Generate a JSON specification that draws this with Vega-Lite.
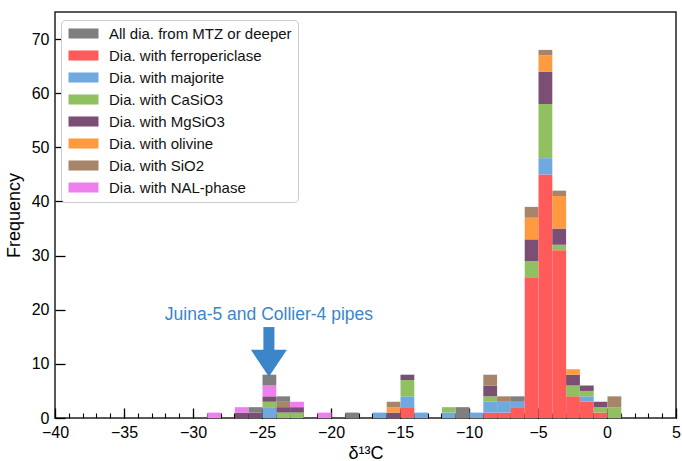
{
  "$schema": "https://vega.github.io/schema/vega-lite/v6.json",
  "width": 621,
  "height": 406,
  "autosize": {"type": "none"},
  "padding": {"left": 55, "top": 12, "right": 6, "bottom": 43},
  "background": "white",
  "config": {
    "font": "Liberation Sans",
    "view": {"stroke": "#222222", "strokeWidth": 1.5},
    "bar": {"binSpacing": 0},
    "axis": {"labelFont": "Liberation Sans", "titleFont": "Liberation Sans", "labelColor": "#000", "titleColor": "#000", "tickColor": "#000", "domain": false, "grid": false, "titleFontWeight": "normal"}
  },
  "datasets": {
    "hist": [
      {"lo": -29, "hi": -28, "s": "Dia. with NAL-phase", "n": 1, "o": 7},
      {"lo": -27, "hi": -26, "s": "Dia. with MgSiO3", "n": 1, "o": 4},
      {"lo": -27, "hi": -26, "s": "Dia. with NAL-phase", "n": 1, "o": 7},
      {"lo": -26, "hi": -25, "s": "Dia. with MgSiO3", "n": 1, "o": 4},
      {"lo": -26, "hi": -25, "s": "All dia. from MTZ or deeper", "n": 1, "o": 8},
      {"lo": -25, "hi": -24, "s": "Dia. with majorite", "n": 2, "o": 2},
      {"lo": -25, "hi": -24, "s": "Dia. with CaSiO3", "n": 1, "o": 3},
      {"lo": -25, "hi": -24, "s": "Dia. with MgSiO3", "n": 1, "o": 4},
      {"lo": -25, "hi": -24, "s": "Dia. with NAL-phase", "n": 2, "o": 7},
      {"lo": -25, "hi": -24, "s": "All dia. from MTZ or deeper", "n": 2, "o": 8},
      {"lo": -24, "hi": -23, "s": "Dia. with CaSiO3", "n": 1, "o": 3},
      {"lo": -24, "hi": -23, "s": "Dia. with MgSiO3", "n": 1, "o": 4},
      {"lo": -24, "hi": -23, "s": "Dia. with SiO2", "n": 1, "o": 6},
      {"lo": -24, "hi": -23, "s": "All dia. from MTZ or deeper", "n": 1, "o": 8},
      {"lo": -23, "hi": -22, "s": "Dia. with CaSiO3", "n": 1, "o": 3},
      {"lo": -23, "hi": -22, "s": "Dia. with MgSiO3", "n": 1, "o": 4},
      {"lo": -23, "hi": -22, "s": "Dia. with NAL-phase", "n": 1, "o": 7},
      {"lo": -21, "hi": -20, "s": "Dia. with NAL-phase", "n": 1, "o": 7},
      {"lo": -19, "hi": -18, "s": "All dia. from MTZ or deeper", "n": 1, "o": 8},
      {"lo": -17, "hi": -16, "s": "Dia. with majorite", "n": 1, "o": 2},
      {"lo": -16, "hi": -15, "s": "Dia. with MgSiO3", "n": 1, "o": 4},
      {"lo": -16, "hi": -15, "s": "Dia. with olivine", "n": 1, "o": 5},
      {"lo": -16, "hi": -15, "s": "Dia. with SiO2", "n": 1, "o": 6},
      {"lo": -15, "hi": -14, "s": "Dia. with ferropericlase", "n": 2, "o": 1},
      {"lo": -15, "hi": -14, "s": "Dia. with majorite", "n": 2, "o": 2},
      {"lo": -15, "hi": -14, "s": "Dia. with CaSiO3", "n": 3, "o": 3},
      {"lo": -15, "hi": -14, "s": "Dia. with MgSiO3", "n": 1, "o": 4},
      {"lo": -14, "hi": -13, "s": "Dia. with majorite", "n": 1, "o": 2},
      {"lo": -12, "hi": -11, "s": "Dia. with majorite", "n": 1, "o": 2},
      {"lo": -12, "hi": -11, "s": "Dia. with CaSiO3", "n": 1, "o": 3},
      {"lo": -11, "hi": -10, "s": "All dia. from MTZ or deeper", "n": 2, "o": 8},
      {"lo": -10, "hi": -9, "s": "Dia. with majorite", "n": 1, "o": 2},
      {"lo": -9, "hi": -8, "s": "Dia. with ferropericlase", "n": 1, "o": 1},
      {"lo": -9, "hi": -8, "s": "Dia. with majorite", "n": 2, "o": 2},
      {"lo": -9, "hi": -8, "s": "Dia. with CaSiO3", "n": 1, "o": 3},
      {"lo": -9, "hi": -8, "s": "Dia. with MgSiO3", "n": 2, "o": 4},
      {"lo": -9, "hi": -8, "s": "Dia. with SiO2", "n": 2, "o": 6},
      {"lo": -8, "hi": -7, "s": "Dia. with ferropericlase", "n": 1, "o": 1},
      {"lo": -8, "hi": -7, "s": "Dia. with majorite", "n": 2, "o": 2},
      {"lo": -8, "hi": -7, "s": "Dia. with SiO2", "n": 1, "o": 6},
      {"lo": -7, "hi": -6, "s": "Dia. with ferropericlase", "n": 2, "o": 1},
      {"lo": -7, "hi": -6, "s": "Dia. with majorite", "n": 1, "o": 2},
      {"lo": -7, "hi": -6, "s": "All dia. from MTZ or deeper", "n": 1, "o": 8},
      {"lo": -6, "hi": -5, "s": "Dia. with ferropericlase", "n": 26, "o": 1},
      {"lo": -6, "hi": -5, "s": "Dia. with CaSiO3", "n": 3, "o": 3},
      {"lo": -6, "hi": -5, "s": "Dia. with MgSiO3", "n": 4, "o": 4},
      {"lo": -6, "hi": -5, "s": "Dia. with olivine", "n": 4, "o": 5},
      {"lo": -6, "hi": -5, "s": "Dia. with SiO2", "n": 2, "o": 6},
      {"lo": -5, "hi": -4, "s": "Dia. with ferropericlase", "n": 45, "o": 1},
      {"lo": -5, "hi": -4, "s": "Dia. with majorite", "n": 3, "o": 2},
      {"lo": -5, "hi": -4, "s": "Dia. with CaSiO3", "n": 10, "o": 3},
      {"lo": -5, "hi": -4, "s": "Dia. with MgSiO3", "n": 6, "o": 4},
      {"lo": -5, "hi": -4, "s": "Dia. with olivine", "n": 3, "o": 5},
      {"lo": -5, "hi": -4, "s": "Dia. with SiO2", "n": 1, "o": 6},
      {"lo": -4, "hi": -3, "s": "Dia. with ferropericlase", "n": 31, "o": 1},
      {"lo": -4, "hi": -3, "s": "Dia. with CaSiO3", "n": 1, "o": 3},
      {"lo": -4, "hi": -3, "s": "Dia. with MgSiO3", "n": 3, "o": 4},
      {"lo": -4, "hi": -3, "s": "Dia. with olivine", "n": 6, "o": 5},
      {"lo": -4, "hi": -3, "s": "Dia. with SiO2", "n": 1, "o": 6},
      {"lo": -3, "hi": -2, "s": "Dia. with ferropericlase", "n": 4, "o": 1},
      {"lo": -3, "hi": -2, "s": "Dia. with CaSiO3", "n": 2, "o": 3},
      {"lo": -3, "hi": -2, "s": "Dia. with MgSiO3", "n": 2, "o": 4},
      {"lo": -3, "hi": -2, "s": "Dia. with olivine", "n": 1, "o": 5},
      {"lo": -2, "hi": -1, "s": "Dia. with ferropericlase", "n": 3, "o": 1},
      {"lo": -2, "hi": -1, "s": "Dia. with majorite", "n": 1, "o": 2},
      {"lo": -2, "hi": -1, "s": "Dia. with CaSiO3", "n": 1, "o": 3},
      {"lo": -2, "hi": -1, "s": "Dia. with MgSiO3", "n": 1, "o": 4},
      {"lo": -1, "hi": 0, "s": "Dia. with ferropericlase", "n": 1, "o": 1},
      {"lo": -1, "hi": 0, "s": "Dia. with CaSiO3", "n": 1, "o": 3},
      {"lo": -1, "hi": 0, "s": "Dia. with MgSiO3", "n": 1, "o": 4},
      {"lo": 0, "hi": 1, "s": "Dia. with CaSiO3", "n": 2, "o": 3},
      {"lo": 0, "hi": 1, "s": "Dia. with SiO2", "n": 2, "o": 6}
    ],
    "arrow": [{"x": -24.5, "ytop": 16.8, "ybot": 12.4, "yhead": 10.1}],
    "note": [{"x": -24.5, "y": 19.0, "label": "Juina-5 and Collier-4 pipes"}]
  },
  "layer": [
    {
      "data": {"name": "hist"},
      "mark": {"type": "bar", "strokeWidth": 0, "opacity": 1, "binSpacing": 0},
      "encoding": {
        "x": {
          "field": "lo", "type": "quantitative", "bin": "binned",
          "scale": {"domain": [-40, 5], "nice": false, "zero": false},
          "axis": {
            "values": [-40, -35, -30, -25, -20, -15, -10, -5, 0, 5],
            "tickSize": -10, "tickWidth": 1.3, "labelPadding": 16, "labelFontSize": 16,
            "labelExpr": "replace(datum.label, '-', '\u2212')",
            "title": "\u03b4\u00b9\u00b3C", "titleFontSize": 18, "titlePadding": 4,
            "labelFlush": false
          }
        },
        "x2": {"field": "hi"},
        "y": {
          "field": "n", "type": "quantitative", "stack": "zero",
          "scale": {"domain": [0, 75], "nice": false},
          "axis": {"values": [0, 10, 20, 30, 40, 50, 60, 70], "tickSize": -10, "tickWidth": 1.3, "labelPadding": 16, "labelFontSize": 16, "title": "Frequency", "titleFontSize": 18, "titlePadding": 8, "labelFlush": false}
        },
        "color": {
          "field": "s", "type": "nominal",
          "scale": {
            "domain": ["All dia. from MTZ or deeper", "Dia. with ferropericlase", "Dia. with majorite", "Dia. with CaSiO3", "Dia. with MgSiO3", "Dia. with olivine", "Dia. with SiO2", "Dia. with NAL-phase"],
            "range": ["#7f7f7f", "#ff5b5b", "#70a9e0", "#90c060", "#7b4e74", "#ff9a40", "#a6856b", "#ee80ee"]
          },
          "legend": {
            "orient": "none", "legendX": 6, "legendY": 8, "title": null,
            "padding": 6, "strokeColor": "#cccccc", "cornerRadius": 4, "fillColor": "white",
            "symbolType": "M-2,-0.67L2,-0.67L2,0.67L-2,0.67Z", "symbolSize": 225,
            "symbolOffset": 9, "labelOffset": 18, "labelFontSize": 15, "labelFont": "Liberation Sans",
            "labelLimit": 400,
            "labelColor": "#111", "rowPadding": 6, "symbolStrokeWidth": 0, "symbolOpacity": 1
          }
        },
        "order": {"field": "o", "type": "quantitative"}
      }
    },
    {
      "data": {"name": "hist"},
      "mark": {"type": "point", "opacity": 0},
      "encoding": {
        "x": {
          "field": "lo", "type": "quantitative",
          "axis": {
            "orient": "bottom",
            "values": [-40, -39, -38, -37, -36, -35, -34, -33, -32, -31, -30, -29, -28, -27, -26, -25, -24, -23, -22, -21, -20, -19, -18, -17, -16, -15, -14, -13, -12, -11, -10, -9, -8, -7, -6, -5, -4, -3, -2, -1, 0, 1, 2, 3, 4, 5],
            "labels": false, "tickSize": -5, "tickWidth": 1.1, "title": null, "domain": false
          }
        }
      }
    },
    {
      "data": {"name": "arrow"},
      "mark": {"type": "rule", "color": "#3a86c8", "strokeWidth": 11, "strokeCap": "butt"},
      "encoding": {
        "x": {"field": "x", "type": "quantitative", "axis": null},
        "y": {"field": "ytop", "type": "quantitative", "axis": {"values": [0, 10, 20, 30, 40, 50, 60, 70], "tickSize": -10, "tickWidth": 1.3, "labelPadding": 16, "labelFontSize": 16, "title": "Frequency", "titleFontSize": 18, "titlePadding": 8, "labelFlush": false}},
        "y2": {"field": "ybot"}
      }
    },
    {
      "data": {"name": "arrow"},
      "mark": {"type": "point", "shape": "M-1,-0.75L1,-0.75L0,0.75Z", "size": 1296, "filled": true, "opacity": 1, "color": "#3a86c8", "strokeWidth": 0},
      "encoding": {
        "x": {"field": "x", "type": "quantitative", "axis": null},
        "y": {"field": "yhead", "type": "quantitative", "axis": {"values": [0, 10, 20, 30, 40, 50, 60, 70], "tickSize": -10, "tickWidth": 1.3, "labelPadding": 16, "labelFontSize": 16, "title": "Frequency", "titleFontSize": 18, "titlePadding": 8, "labelFlush": false}}
      }
    },
    {
      "data": {"name": "note"},
      "mark": {"type": "text", "color": "#3a86c8", "fontSize": 17.5, "font": "Liberation Sans", "align": "center", "baseline": "middle"},
      "encoding": {
        "x": {"field": "x", "type": "quantitative", "axis": null},
        "y": {"field": "y", "type": "quantitative", "axis": {"values": [0, 10, 20, 30, 40, 50, 60, 70], "tickSize": -10, "tickWidth": 1.3, "labelPadding": 16, "labelFontSize": 16, "title": "Frequency", "titleFontSize": 18, "titlePadding": 8, "labelFlush": false}},
        "text": {"field": "label"}
      }
    }
  ],
  "resolve": {"axis": {"x": "independent"}}
}
